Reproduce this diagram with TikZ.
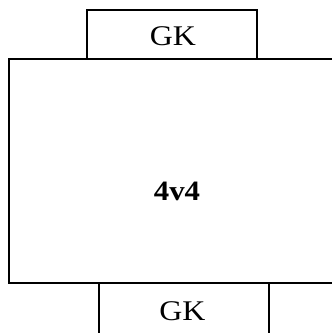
\documentclass[tikz,border=0pt]{standalone}
\usepackage{fontspec}
\setmainfont{Liberation Serif}
\begin{document}
\begin{tikzpicture}[x=1pt,y=-1pt,
  box/.style={draw=black,line width=1.6pt,rectangle,inner sep=0pt},
  lbl/.style={anchor=base,inner sep=0pt,font=\fontsize{28.5}{30}\selectfont}]
\useasboundingbox (0,0) rectangle (332,333);
\node[box,minimum width=170pt,minimum height=49pt] (topgk) at (172,34.5) {};
\node[box,minimum width=331pt,minimum height=224pt] (field) at (174.5,171) {};
\node[box,minimum width=170pt,minimum height=62pt] (botgk) at (184,314) {};
\node[lbl] (t1) at (173,45.7) {\scalebox{1.12}[1]{GK}};
\node[lbl,font=\fontsize{28}{30}\selectfont\bfseries] (t2) at (177,200) {\scalebox{1.1}[1]{4v4}};
\node[lbl] (t3) at (182.5,320) {\scalebox{1.12}[1]{GK}};
\end{tikzpicture}
\end{document}
